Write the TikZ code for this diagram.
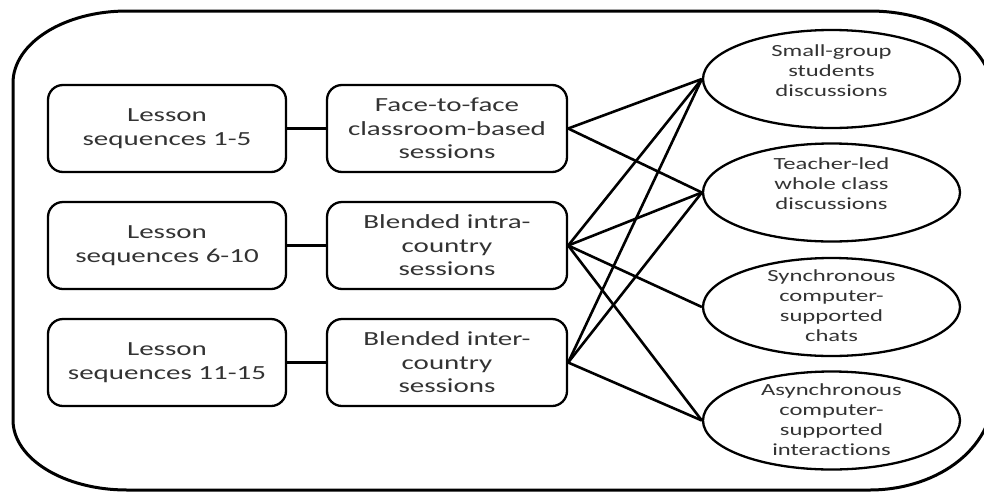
\documentclass[tikz,border=0pt]{standalone}
\usepackage{fontspec}
\setmainfont{Carlito}[FakeStretch=1.45,Ligatures=CommonOff]
\usetikzlibrary{shapes.geometric}
\definecolor{txt}{HTML}{333333}
\begin{document}
\begin{tikzpicture}[x=1pt,y=-1pt,
  box/.style={draw, line width=2.3pt, rounded corners=15pt, minimum width=238pt, minimum height=87pt, inner sep=0pt, align=center, text=txt, font=\fontsize{20}{23.5}\selectfont},
  ell/.style={draw, line width=2.3pt, ellipse, minimum width=257pt, minimum height=98pt, inner sep=0pt},
  etxt/.style={align=center, text=txt, inner sep=0pt, font=\fontsize{17}{20}\selectfont},
  link/.style={line width=2.6pt},
  outer/.style={line width=3pt}]
\useasboundingbox (0,0) rectangle (984,493);
\clip (0,0) rectangle (984,493);
% outer frame
\draw[outer] (13,83) .. controls (13,43.2) and (64,11) .. (127,11)
  -- (870,11) .. controls (930,11) and (995,40) .. (995,105)
  -- (995,385) .. controls (995,455) and (930,490) .. (870,490)
  -- (127,490) .. controls (64,490) and (13,458.7) .. (13,420) -- cycle;
% left boxes
\node[box] (l1) at (167,128.5) {Lesson\\sequences 1-5};
\node[box] (l2) at (167,245.5) {Lesson\\sequences 6-10};
\node[box] (l3) at (167,362.5) {Lesson\\sequences 11-15};
% middle boxes
\node[box, minimum width=240pt] (m1) at (447,128.5) {Face-to-face\\classroom-based\\sessions};
\node[box, minimum width=240pt] (m2) at (447,245.5) {Blended intra-\\country\\sessions};
\node[box, minimum width=240pt] (m3) at (447,362.5) {Blended inter-\\country\\sessions};
% ellipses
\node[ell] (e1) at (831.5,79) {};
\node[ell] (e2) at (831.5,192.5) {};
\node[ell] (e3) at (831.5,307) {};
\node[ell] (e4) at (831.5,420.5) {};
\node[etxt] (t1) at (831.5,71) {Small-group\\students\\discussions};
\node[etxt] (t2) at (831.5,184) {Teacher-led\\whole class\\discussions};
\node[etxt] (t3) at (831.5,306) {Synchronous\\computer-\\supported\\chats};
\node[etxt] (t4) at (831.5,420) {Asynchronous\\computer-\\supported\\interactions};
% connectors
\draw[link] (l1.east) -- (m1.west);
\draw[link] (l2.east) -- (m2.west);
\draw[link] (l3.east) -- (m3.west);
\draw[link] (m1.east) -- (e1.west);
\draw[link] (m1.east) -- (e2.west);
\draw[link] (m2.east) -- (e1.west);
\draw[link] (m2.east) -- (e2.west);
\draw[link] (m2.east) -- (e3.west);
\draw[link] (m2.east) -- (e4.west);
\draw[link] (m3.east) -- (e1.west);
\draw[link] (m3.east) -- (e2.west);
\draw[link] (m3.east) -- (e4.west);
\end{tikzpicture}
\end{document}
